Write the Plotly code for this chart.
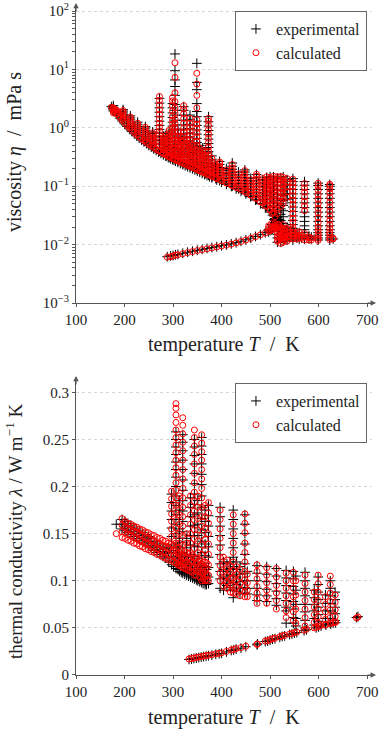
import plotly.graph_objects as go

# ---------------- viscosity (top panel) ----------------
# saturated liquid line
visc_liq_T = [173, 176, 180, 185, 190, 195, 200, 205, 210, 215,
              220, 225, 230, 235, 240, 245, 250, 255, 260, 265,
              270, 275, 280, 285, 290, 295, 300, 305, 310, 315,
              320, 325, 330, 335, 340, 345, 350, 355, 360, 365,
              370, 375, 380, 390, 400, 410, 420, 430, 440, 450,
              460, 470, 480, 490, 500, 505, 510]
visc_liq_exp = [2.30, 2.12, 1.89, 1.66, 1.47, 1.31, 1.17, 1.06, 0.96, 0.87,
                0.79, 0.73, 0.67, 0.62, 0.574, 0.535, 0.50, 0.466, 0.436, 0.41,
                0.386, 0.365, 0.345, 0.327, 0.31, 0.295, 0.281, 0.268, 0.256, 0.245,
                0.235, 0.225, 0.216, 0.207, 0.199, 0.19, 0.181, 0.174, 0.166, 0.159,
                0.152, 0.146, 0.14, 0.128, 0.118, 0.108, 0.099, 0.09, 0.082, 0.074,
                0.066, 0.058, 0.05, 0.043, 0.036, 0.032, 0.028]
visc_liq_calc = [2.25, 2.15, 1.95, 1.72, 1.52, 1.36, 1.22, 1.10, 1.0, 0.91,
                 0.83, 0.76, 0.70, 0.65, 0.60, 0.56, 0.52, 0.49, 0.46, 0.43,
                 0.405, 0.383, 0.362, 0.343, 0.326, 0.31, 0.295, 0.282, 0.27, 0.258,
                 0.247, 0.237, 0.227, 0.218, 0.209, 0.2, 0.191, 0.183, 0.175, 0.168,
                 0.16, 0.154, 0.147, 0.135, 0.124, 0.114, 0.104, 0.095, 0.087, 0.078,
                 0.07, 0.062, 0.054, 0.046, 0.039, 0.034, 0.03]

# saturated vapour line
visc_vap_T = [288, 295, 300, 305, 310, 320, 330, 340, 350, 360,
              370, 380, 390, 400, 410, 420, 430, 440, 450, 460,
              470, 480, 490, 500, 505, 510]
visc_vap_exp = [0.0062, 0.0064, 0.0065, 0.0067, 0.0068, 0.0071, 0.0074, 0.0077, 0.008, 0.0083,
                0.0086, 0.0089, 0.0092, 0.0096, 0.0099, 0.0103, 0.0108, 0.0114, 0.0121, 0.0129,
                0.0138, 0.0148, 0.016, 0.0175, 0.0185, 0.0205]
visc_vap_calc = [0.0061, 0.0062, 0.0064, 0.0066, 0.0067, 0.007, 0.0073, 0.0076, 0.0079, 0.0082,
                 0.0085, 0.0088, 0.0091, 0.0095, 0.0098, 0.0102, 0.0107, 0.0113, 0.012, 0.0128,
                 0.0137, 0.0147, 0.0158, 0.0172, 0.0182, 0.02]

# measured points near the critical point
visc_crit_T = [508, 510, 511, 512, 513, 514, 515, 516, 517, 512, 514, 510, 516]
visc_crit_exp = [0.027, 0.026, 0.028, 0.025, 0.027, 0.029, 0.026, 0.024, 0.027, 0.031, 0.023, 0.023, 0.03]

# isotherms
visc_iso_T = [177, 184, 197, 212, 227, 243, 258, 272, 280, 286,
              292, 299, 304, 310, 316, 322, 328, 335, 341, 349,
              355, 361, 367, 373, 380, 388, 396, 410, 422, 435,
              448, 460, 472, 485, 493, 500, 507, 515, 522, 527,
              535, 547, 560, 571, 585, 599, 623, 630, 497, 503,
              510, 518, 530, 540, 555, 565, 580]
visc_iso_exp = [
    [1.95, 2.1, 2.25, 2.4],
    [1.78, 1.9],
    [1.38, 1.47, 1.57, 1.68, 1.8, 1.93, 2.05],
    [1.02, 1.1, 1.18, 1.27, 1.37, 1.48, 1.6],
    [0.78, 0.84, 0.91, 0.98, 1.06, 1.15, 1.25],
    [0.6, 0.65, 0.71, 0.77, 0.84, 0.91, 0.99, 1.05],
    [0.48, 0.52, 0.57, 0.62, 0.67, 0.73, 0.8, 0.85],
    [0.4, 0.46, 0.53, 0.61, 0.7, 0.81, 0.94, 1.1, 1.3, 1.55, 1.85, 2.2, 2.65, 3.2],
    [0.36, 0.4, 0.45, 0.51, 0.57, 0.64, 0.72],
    [0.33, 0.37, 0.42, 0.48, 0.55, 0.62, 0.7, 0.8],
    [0.31, 0.35, 0.4, 0.45, 0.51, 0.58, 0.66, 0.75, 0.85],
    [0.29, 0.33, 0.38, 0.44, 0.51, 0.59, 0.68, 0.79, 0.92, 1.07, 1.25, 1.5, 1.8, 2.2, 2.6],
    [0.28, 0.32, 0.37, 0.43, 0.5, 0.58, 0.68, 0.8, 0.95, 1.12, 1.35, 1.65, 2.0, 2.5, 3.6, 5.1, 6.6, 9.5, 18.4],
    [0.27, 0.31, 0.35, 0.4, 0.46, 0.53, 0.61, 0.7, 0.8, 0.92],
    [0.255, 0.29, 0.33, 0.38, 0.44, 0.5, 0.57, 0.65, 0.75],
    [0.245, 0.28, 0.32, 0.37, 0.43, 0.5, 0.58, 0.68, 0.8, 0.95, 1.12, 1.35, 1.65, 2.0, 2.3],
    [0.235, 0.27, 0.31, 0.35, 0.4, 0.46, 0.53, 0.61, 0.7],
    [0.22, 0.25, 0.29, 0.33, 0.38, 0.44, 0.51, 0.6, 0.7, 0.82, 0.97, 1.15, 1.4, 1.65],
    [0.21, 0.24, 0.28, 0.32, 0.37, 0.42, 0.48, 0.55],
    [0.195, 0.225, 0.26, 0.3, 0.35, 0.41, 0.48, 0.56, 0.66, 0.78, 0.92, 1.1, 1.3, 1.55, 1.9, 2.6, 4.5, 6.0, 12.7],
    [0.185, 0.21, 0.24, 0.28, 0.32, 0.37, 0.43, 0.5],
    [0.175, 0.2, 0.23, 0.26, 0.3, 0.34, 0.39, 0.45],
    [0.165, 0.19, 0.22, 0.25, 0.28, 0.32, 0.37, 0.42],
    [0.155, 0.18, 0.21, 0.245, 0.285, 0.33, 0.39, 0.46, 0.54, 0.64, 0.76, 0.9, 1.07, 1.27, 1.55],
    [0.145, 0.165, 0.19, 0.22, 0.25, 0.29, 0.33],
    [0.135, 0.155, 0.175, 0.2, 0.23],
    [0.125, 0.14, 0.155, 0.17, 0.19, 0.21, 0.235, 0.265],
    [0.11, 0.122, 0.135, 0.15, 0.166, 0.185, 0.2],
    [0.1, 0.112, 0.125, 0.14, 0.156, 0.174, 0.195, 0.22, 0.25],
    [0.09, 0.1, 0.112, 0.125, 0.14, 0.156, 0.175],
    [0.08, 0.09, 0.1, 0.112, 0.125, 0.14, 0.157, 0.175, 0.19],
    [0.068, 0.077, 0.087, 0.098, 0.11, 0.123, 0.137],
    [0.06, 0.068, 0.077, 0.087, 0.098, 0.11, 0.124, 0.14, 0.158],
    [0.05, 0.058, 0.067, 0.077, 0.088, 0.1, 0.114, 0.13],
    [0.045, 0.052, 0.06, 0.07, 0.081, 0.094, 0.108, 0.124, 0.142],
    [0.038, 0.045, 0.053, 0.062, 0.073, 0.085, 0.099, 0.115, 0.133, 0.146],
    [0.034, 0.04, 0.047, 0.056, 0.066, 0.078, 0.092, 0.108, 0.126, 0.145],
    [0.011, 0.013, 0.015, 0.018, 0.021, 0.025, 0.03, 0.036, 0.043, 0.051, 0.061, 0.072, 0.085, 0.1, 0.118, 0.138],
    [0.011, 0.013, 0.015, 0.018, 0.021, 0.026, 0.033, 0.041, 0.05, 0.06, 0.072, 0.086, 0.102, 0.12, 0.14],
    [0.0115, 0.0135, 0.016, 0.019, 0.023, 0.03, 0.038, 0.047, 0.057, 0.069, 0.083, 0.1, 0.12, 0.145],
    [0.012, 0.014, 0.017, 0.02, 0.06, 0.075, 0.09, 0.108, 0.13],
    [0.012, 0.0135, 0.015, 0.017, 0.019, 0.022, 0.026, 0.031, 0.037, 0.044, 0.052, 0.062, 0.074, 0.088, 0.104, 0.12, 0.135],
    [0.0125, 0.014, 0.016],
    [0.0125, 0.014, 0.016, 0.018, 0.021, 0.025, 0.03, 0.036, 0.043, 0.052, 0.062, 0.074, 0.088, 0.104, 0.12],
    [0.0125, 0.0135],
    [0.012, 0.013, 0.0145, 0.016, 0.018, 0.021, 0.025, 0.03, 0.036, 0.043, 0.052, 0.062, 0.074, 0.088, 0.103, 0.113],
    [0.012, 0.013, 0.0145, 0.016, 0.018, 0.021, 0.025, 0.03, 0.036, 0.043, 0.052, 0.062, 0.074, 0.088, 0.1, 0.107],
    [0.0125],
    [0.0165, 0.018],
    [0.018, 0.02, 0.022],
    [0.02, 0.022, 0.024],
    [0.013, 0.015, 0.017, 0.019, 0.021],
    [0.0125, 0.014, 0.016, 0.018],
    [0.013, 0.015, 0.017],
    [0.013, 0.015],
    [0.013],
    [0.0125, 0.014],
]
visc_iso_calc = [
    [1.8, 1.9, 2.0, 2.1, 2.2],
    [1.75, 1.9, 2.0],
    [1.42, 1.52, 1.62, 1.74, 1.86, 1.98],
    [1.05, 1.14, 1.23, 1.32, 1.42, 1.53],
    [0.8, 0.87, 0.94, 1.02, 1.1, 1.2],
    [0.62, 0.68, 0.74, 0.8, 0.87, 0.95, 1.02],
    [0.5, 0.54, 0.59, 0.64, 0.7, 0.76, 0.82],
    [0.42, 0.49, 0.57, 0.66, 0.76, 0.88, 1.02, 1.2, 1.42, 1.7, 2.03, 2.45, 2.95, 3.45],
    [0.37, 0.42, 0.48, 0.54, 0.6, 0.68],
    [0.35, 0.39, 0.45, 0.51, 0.58, 0.66, 0.75],
    [0.32, 0.37, 0.42, 0.48, 0.54, 0.62, 0.7, 0.8, 0.9],
    [0.3, 0.35, 0.4, 0.46, 0.53, 0.62, 0.72, 0.84, 0.98, 1.15, 1.35, 1.6, 1.95, 2.4, 2.9, 3.3],
    [0.29, 0.34, 0.39, 0.45, 0.53, 0.62, 0.73, 0.86, 1.02, 1.2, 1.45, 1.8, 2.2, 2.8, 4.0, 7.3, 13.0],
    [0.28, 0.32, 0.37, 0.42, 0.48, 0.55, 0.63, 0.73, 0.85],
    [0.265, 0.3, 0.35, 0.4, 0.46, 0.52, 0.6, 0.7],
    [0.255, 0.29, 0.34, 0.39, 0.45, 0.52, 0.61, 0.72, 0.85, 1.0, 1.2, 1.45, 1.75, 2.1, 2.4],
    [0.245, 0.28, 0.32, 0.37, 0.42, 0.48, 0.55, 0.64],
    [0.23, 0.265, 0.3, 0.35, 0.4, 0.46, 0.54, 0.63, 0.74, 0.87, 1.02, 1.2, 1.45],
    [0.22, 0.25, 0.29, 0.33, 0.38, 0.44, 0.5],
    [0.205, 0.235, 0.27, 0.31, 0.36, 0.42, 0.5, 0.59, 0.7, 0.83, 0.98, 1.16, 1.38, 2.2, 3.6, 5.6, 8.6],
    [0.19, 0.22, 0.25, 0.29, 0.34, 0.39, 0.45],
    [0.18, 0.21, 0.24, 0.27, 0.31, 0.36, 0.41],
    [0.17, 0.195, 0.225, 0.26, 0.3, 0.34, 0.39],
    [0.16, 0.185, 0.215, 0.25, 0.29, 0.34, 0.4, 0.47, 0.56, 0.66, 0.78, 0.93, 1.1, 1.3, 1.45],
    [0.15, 0.17, 0.195, 0.225, 0.26, 0.3],
    [0.14, 0.16, 0.18, 0.205, 0.235],
    [0.13, 0.145, 0.16, 0.178, 0.198, 0.22, 0.245, 0.26],
    [0.114, 0.127, 0.141, 0.156, 0.173, 0.19],
    [0.104, 0.117, 0.131, 0.146, 0.163, 0.182, 0.205, 0.235],
    [0.094, 0.105, 0.117, 0.131, 0.146, 0.163],
    [0.083, 0.093, 0.104, 0.117, 0.131, 0.147, 0.165, 0.185],
    [0.071, 0.08, 0.09, 0.102, 0.115, 0.129],
    [0.062, 0.071, 0.08, 0.09, 0.102, 0.115, 0.13, 0.148, 0.16],
    [0.052, 0.06, 0.07, 0.08, 0.092, 0.105, 0.12, 0.135],
    [0.047, 0.055, 0.064, 0.074, 0.086, 0.099, 0.114, 0.13, 0.145],
    [0.04, 0.047, 0.056, 0.066, 0.077, 0.09, 0.105, 0.122, 0.14],
    [0.036, 0.042, 0.05, 0.059, 0.07, 0.083, 0.098, 0.115, 0.134, 0.148],
    [0.0115, 0.0135, 0.016, 0.019, 0.022, 0.034, 0.04, 0.048, 0.057, 0.067, 0.079, 0.093, 0.11, 0.128, 0.145],
    [0.0105, 0.0125, 0.0145, 0.017, 0.02, 0.045, 0.055, 0.066, 0.079, 0.094, 0.11, 0.128, 0.146],
    [0.011, 0.013, 0.0155, 0.0185, 0.022, 0.05, 0.061, 0.074, 0.089, 0.106, 0.125, 0.142],
    [0.0115, 0.0135, 0.016, 0.019, 0.065, 0.08, 0.097, 0.117, 0.135],
    [0.0125, 0.014, 0.016, 0.018, 0.02, 0.024, 0.028, 0.034, 0.041, 0.049, 0.058, 0.069, 0.082, 0.097, 0.114, 0.132],
    [0.013, 0.0145, 0.0165],
    [0.012, 0.0135, 0.0155, 0.038, 0.046, 0.055, 0.066, 0.079, 0.094, 0.111],
    [0.012, 0.013],
    [0.0118, 0.0128, 0.014, 0.0155, 0.0175, 0.02, 0.024, 0.029, 0.035, 0.042, 0.05, 0.06, 0.072, 0.085, 0.1, 0.112],
    [0.0122, 0.0132, 0.0148, 0.0165, 0.019, 0.022, 0.026, 0.031, 0.037, 0.044, 0.053, 0.064, 0.077, 0.09, 0.102, 0.108],
    [0.0125, 0.0128],
    [0.017, 0.019, 0.021],
    [0.018, 0.02, 0.023],
    [0.019, 0.021, 0.023],
    [0.012, 0.014, 0.016, 0.018, 0.02, 0.022],
    [0.012, 0.0135, 0.015, 0.017, 0.019],
    [0.0125, 0.014, 0.016, 0.018],
    [0.0125, 0.014, 0.016],
    [0.0128, 0.0145],
    [0.012, 0.0135],
]

# ---------------- thermal conductivity (bottom panel) ----------------
# saturated vapour line
tc_vap_T = [333, 338, 343, 348, 353, 358, 363, 368, 373, 380,
            388, 395, 400, 410, 420, 425, 430, 440, 450, 473,
            474, 490, 495, 500, 505, 510, 520, 525, 530, 540,
            545, 550, 555, 570, 575, 595, 600, 605, 615, 625,
            630, 635, 678, 681]
tc_vap_exp = [0.0165, 0.017, 0.0176, 0.018, 0.0185, 0.019, 0.0195, 0.02, 0.0205, 0.021,
              0.022, 0.0225, 0.023, 0.0245, 0.026, 0.0265, 0.0275, 0.0285, 0.03, 0.032,
              0.033, 0.0355, 0.036, 0.037, 0.038, 0.0385, 0.04, 0.041, 0.0415, 0.043,
              0.0435, 0.0445, 0.045, 0.047, 0.048, 0.05, 0.051, 0.052, 0.053, 0.054,
              0.055, 0.0555, 0.061, 0.062]
tc_vap_calc = [0.017, 0.0175, 0.018, 0.0185, 0.019, 0.0195, 0.02, 0.0205, 0.021, 0.0215,
               0.0225, 0.023, 0.0235, 0.025, 0.0265, 0.027, 0.028, 0.029, 0.0305, 0.0325,
               0.033, 0.036, 0.0365, 0.0375, 0.0385, 0.039, 0.0405, 0.0415, 0.042, 0.0435,
               0.044, 0.045, 0.0455, 0.0475, 0.0485, 0.0505, 0.0515, 0.0525, 0.0535, 0.0545,
               0.0555, 0.056, 0.0605, 0.0615]

# isotherms
tc_iso_T = [183, 195, 201, 207, 213, 219, 225, 231, 237, 243,
            249, 255, 261, 267, 273, 279, 285, 291, 297, 301,
            306, 310, 313, 317, 320, 324, 328, 332, 336, 340,
            344, 348, 351, 355, 359, 362, 366, 369, 373, 397,
            404, 411, 418, 424, 431, 438, 448, 453, 473, 493,
            513, 533, 548, 553, 572, 591, 599, 614, 624, 634]
tc_iso_exp = [
    [0.16],
    [0.155, 0.16, 0.165],
    [0.153, 0.158, 0.163],
    [0.151, 0.156, 0.161],
    [0.149, 0.154, 0.159],
    [0.147, 0.152, 0.157],
    [0.145, 0.15, 0.155],
    [0.143, 0.148, 0.153],
    [0.141, 0.146, 0.151],
    [0.139, 0.144, 0.149],
    [0.137, 0.142, 0.147],
    [0.135, 0.14, 0.145],
    [0.132, 0.137, 0.142],
    [0.13, 0.135, 0.14],
    [0.128, 0.133, 0.138],
    [0.126, 0.131, 0.136],
    [0.124, 0.129, 0.134],
    [0.12, 0.125, 0.13, 0.135],
    [0.117, 0.122, 0.13, 0.138, 0.147, 0.156, 0.165, 0.174, 0.183, 0.192],
    [0.115, 0.12, 0.126, 0.132],
    [0.113, 0.12, 0.13, 0.14, 0.15, 0.16, 0.17, 0.18, 0.19, 0.2, 0.21, 0.218, 0.226, 0.234, 0.242, 0.25, 0.258],
    [0.112, 0.118, 0.124, 0.13, 0.136],
    [0.11, 0.116, 0.125, 0.135, 0.145, 0.155, 0.165, 0.175, 0.185],
    [0.109, 0.115, 0.121, 0.128],
    [0.108, 0.112, 0.12, 0.13, 0.141, 0.152, 0.163, 0.174, 0.185, 0.196, 0.207, 0.218, 0.228, 0.238, 0.247, 0.255],
    [0.107, 0.113, 0.119, 0.126],
    [0.106, 0.111, 0.118, 0.125, 0.135, 0.145],
    [0.105, 0.11, 0.116, 0.122],
    [0.104, 0.109, 0.118, 0.128, 0.138, 0.148, 0.158, 0.168, 0.178, 0.188],
    [0.103, 0.108, 0.114, 0.12],
    [0.102, 0.105, 0.116, 0.126, 0.137, 0.148, 0.159, 0.17, 0.181, 0.192, 0.203, 0.214, 0.224, 0.233, 0.242, 0.25],
    [0.101, 0.106, 0.112, 0.118],
    [0.1, 0.103, 0.112, 0.124, 0.136, 0.148, 0.16, 0.172, 0.185],
    [0.099, 0.104, 0.11, 0.116],
    [0.098, 0.1, 0.106, 0.118, 0.13, 0.142, 0.154, 0.166, 0.178, 0.19, 0.202, 0.213, 0.224, 0.234, 0.243, 0.252],
    [0.097, 0.102, 0.108, 0.114],
    [0.096, 0.098, 0.105, 0.115, 0.127, 0.139, 0.151, 0.163, 0.175],
    [0.096, 0.1, 0.106, 0.112],
    [0.097, 0.104, 0.114, 0.125, 0.136, 0.147, 0.158, 0.169, 0.18],
    [0.092, 0.102, 0.11, 0.118, 0.128, 0.138, 0.148, 0.158, 0.168, 0.178],
    [0.09, 0.097, 0.104, 0.112, 0.12],
    [0.095, 0.102, 0.11, 0.118],
    [0.093, 0.1, 0.106, 0.113, 0.12],
    [0.082, 0.09, 0.098, 0.106, 0.115, 0.125, 0.135, 0.145, 0.155, 0.165, 0.175],
    [0.089, 0.096, 0.104, 0.112, 0.12],
    [0.086, 0.092, 0.099, 0.107, 0.115],
    [0.087, 0.093, 0.1, 0.108, 0.118, 0.128, 0.139, 0.15, 0.16, 0.17],
    [0.086, 0.092, 0.1, 0.11],
    [0.079, 0.085, 0.092, 0.1, 0.108, 0.116],
    [0.078, 0.084, 0.091, 0.099, 0.107, 0.115],
    [0.074, 0.081, 0.089, 0.097, 0.105, 0.113],
    [0.055, 0.068, 0.072, 0.079, 0.087, 0.095, 0.103, 0.111],
    [0.055, 0.061, 0.07, 0.078, 0.086, 0.094, 0.102, 0.11],
    [0.052, 0.06, 0.075, 0.09, 0.105],
    [0.05, 0.058, 0.067, 0.075, 0.084, 0.092, 0.1, 0.109],
    [0.053, 0.06, 0.068, 0.075, 0.082, 0.09],
    [0.057, 0.064, 0.072, 0.08, 0.088, 0.096, 0.104],
    [0.054, 0.06, 0.068, 0.076, 0.085],
    [0.055, 0.06, 0.068, 0.076, 0.084, 0.092, 0.1],
    [0.058, 0.065, 0.072, 0.08, 0.088],
]
tc_iso_calc = [
    [0.15],
    [0.146, 0.152, 0.159, 0.166],
    [0.145, 0.151, 0.157, 0.163],
    [0.143, 0.149, 0.155, 0.161],
    [0.142, 0.148, 0.154, 0.16],
    [0.14, 0.146, 0.152, 0.158],
    [0.139, 0.145, 0.151, 0.157],
    [0.137, 0.143, 0.149, 0.155],
    [0.136, 0.142, 0.148, 0.154],
    [0.134, 0.14, 0.146, 0.152],
    [0.133, 0.139, 0.145, 0.151],
    [0.131, 0.137, 0.143, 0.149],
    [0.13, 0.136, 0.142, 0.148],
    [0.128, 0.134, 0.14, 0.146],
    [0.127, 0.133, 0.139, 0.145],
    [0.125, 0.131, 0.137, 0.143],
    [0.124, 0.13, 0.136, 0.142],
    [0.122, 0.128, 0.134, 0.14],
    [0.122, 0.131, 0.139, 0.147, 0.155, 0.163, 0.171, 0.179, 0.187, 0.195],
    [0.12, 0.126, 0.132, 0.138],
    [0.119, 0.124, 0.132, 0.14, 0.148, 0.156, 0.164, 0.172, 0.18, 0.188, 0.196, 0.204, 0.212, 0.22,
     0.228, 0.236, 0.244, 0.252, 0.26, 0.268, 0.276, 0.283, 0.288],
    [0.117, 0.123, 0.129, 0.135],
    [0.116, 0.12, 0.13, 0.14, 0.15, 0.16, 0.17, 0.18, 0.19],
    [0.115, 0.121, 0.127, 0.133],
    [0.114, 0.118, 0.128, 0.138, 0.148, 0.158, 0.168, 0.178, 0.188, 0.198, 0.208, 0.218, 0.228, 0.238,
     0.247, 0.256, 0.265, 0.273],
    [0.113, 0.119, 0.125, 0.131],
    [0.112, 0.12, 0.13, 0.14, 0.15],
    [0.111, 0.117, 0.123, 0.129],
    [0.11, 0.12, 0.13, 0.14, 0.15, 0.16, 0.17, 0.18, 0.19],
    [0.109, 0.115, 0.121, 0.127],
    [0.106, 0.114, 0.124, 0.134, 0.144, 0.154, 0.164, 0.174, 0.184, 0.194, 0.204, 0.214, 0.224, 0.234,
     0.243, 0.252, 0.26],
    [0.106, 0.112, 0.118, 0.124],
    [0.11, 0.12, 0.13, 0.142, 0.154, 0.166, 0.178, 0.19],
    [0.104, 0.11, 0.116, 0.122],
    [0.1, 0.108, 0.118, 0.128, 0.138, 0.148, 0.158, 0.168, 0.178, 0.188, 0.198, 0.208, 0.218, 0.228,
     0.237, 0.246, 0.255],
    [0.102, 0.108, 0.114, 0.12],
    [0.1, 0.11, 0.12, 0.132, 0.144, 0.156, 0.168, 0.18],
    [0.101, 0.107, 0.113, 0.119],
    [0.1, 0.106, 0.117, 0.128, 0.139, 0.15, 0.161, 0.172, 0.183],
    [0.1, 0.108, 0.116, 0.125, 0.135, 0.145, 0.155, 0.165, 0.175],
    [0.094, 0.101, 0.109, 0.117, 0.125],
    [0.092, 0.099, 0.106, 0.114, 0.122],
    [0.088, 0.095, 0.102, 0.109, 0.116],
    [0.087, 0.095, 0.103, 0.111, 0.12, 0.13, 0.14, 0.15, 0.16, 0.17],
    [0.086, 0.093, 0.1, 0.107, 0.115],
    [0.084, 0.09, 0.097, 0.104, 0.112],
    [0.083, 0.088, 0.094, 0.101, 0.11, 0.12, 0.13, 0.14, 0.151, 0.161, 0.171],
    [0.083, 0.09, 0.098, 0.107],
    [0.076, 0.081, 0.087, 0.094, 0.102, 0.11, 0.117],
    [0.076, 0.083, 0.09, 0.098, 0.106, 0.114],
    [0.07, 0.079, 0.087, 0.095, 0.104, 0.113],
    [0.061, 0.068, 0.076, 0.084, 0.092, 0.1, 0.108],
    [0.058, 0.067, 0.075, 0.083, 0.092, 0.1, 0.109],
    [0.055, 0.07, 0.085, 0.1],
    [0.052, 0.061, 0.07, 0.079, 0.088, 0.097, 0.106],
    [0.05, 0.056, 0.064, 0.072, 0.08, 0.088],
    [0.055, 0.062, 0.07, 0.079, 0.088, 0.097, 0.106],
    [0.053, 0.059, 0.067, 0.075, 0.083],
    [0.055, 0.061, 0.069, 0.078, 0.087, 0.096, 0.105],
    [0.056, 0.062, 0.069, 0.077, 0.085],
]

# axis ticks
x_ticks = [100, 200, 300, 400, 500, 600, 700]
visc_ticks = [1e-3, 1e-2, 1e-1, 1e0, 1e1, 1e2]
visc_ticklabels = ["10<sup>−3</sup>", "10<sup>−2</sup>", "10<sup>−1</sup>",
                   "10<sup>0</sup>", "10<sup>1</sup>", "10<sup>2</sup>"]
visc_minor = [k * d for d in visc_ticks[:-1] for k in range(2, 10)]
tc_ticks = [0, 0.05, 0.1, 0.15, 0.2, 0.25, 0.3]
tc_ticklabels = ["0", "0.05", "0.1", "0.15", "0.2", "0.25", "0.3"]


def collect(groups):
    xs, ys = [], []
    for line_T, line_vals in groups:
        xs += list(line_T)
        ys += list(line_vals)
    return xs, ys


def iso_groups(iso_T, iso_vals):
    return [([t] * len(v), v) for t, v in zip(iso_T, iso_vals)]


FONT = "Liberation Serif, Times New Roman, serif"
AX = "#555555"
plus = dict(symbol="cross-thin-open", size=7, color="black", line=dict(width=1, color="black"))
ring = dict(symbol="circle-open", size=6, color="red", line=dict(width=1, color="red"))

vx_exp, vy_exp = collect([(visc_liq_T, visc_liq_exp), (visc_vap_T, visc_vap_exp),
                          (visc_crit_T, visc_crit_exp)] + iso_groups(visc_iso_T, visc_iso_exp))
vx_calc, vy_calc = collect([(visc_liq_T, visc_liq_calc), (visc_vap_T, visc_vap_calc)]
                           + iso_groups(visc_iso_T, visc_iso_calc))
tx_exp, ty_exp = collect([(tc_vap_T, tc_vap_exp)] + iso_groups(tc_iso_T, tc_iso_exp))
tx_calc, ty_calc = collect([(tc_vap_T, tc_vap_calc)] + iso_groups(tc_iso_T, tc_iso_calc))

fig = go.Figure()
fig.add_trace(go.Scatter(x=vx_exp, y=vy_exp, mode="markers", marker=plus, name="experimental",
                         xaxis="x", yaxis="y", legend="legend"))
fig.add_trace(go.Scatter(x=vx_calc, y=vy_calc, mode="markers", marker=ring, name="calculated",
                         xaxis="x", yaxis="y", legend="legend"))
fig.add_trace(go.Scatter(x=tx_exp, y=ty_exp, mode="markers", marker=plus, name="experimental",
                         xaxis="x2", yaxis="y2", legend="legend2"))
fig.add_trace(go.Scatter(x=tx_calc, y=ty_calc, mode="markers", marker=ring, name="calculated",
                         xaxis="x2", yaxis="y2", legend="legend2"))

XR = [100, 710]
TOP = [0.5552, 1.0]
BOT = [0.0, 0.4433]
tickfont = dict(family=FONT, size=15, color="#222")
base = dict(showline=True, linecolor=AX, linewidth=1.2, ticks="outside", ticklen=3,
            tickcolor=AX, tickwidth=1, zeroline=False, tickfont=tickfont)
inner = dict(showline=False, ticks="inside", ticklen=3, tickcolor=AX, tickwidth=1,
             zeroline=False, showgrid=False, showticklabels=False)
grid = dict(showgrid=True, gridcolor="#d6d6d6", griddash="dot", gridwidth=1)
legend_style = dict(xanchor="right", yanchor="top", bgcolor="white", bordercolor="#666",
                    borderwidth=1, font=dict(family=FONT, size=16, color="#222"),
                    itemwidth=30, tracegroupgap=0)

fig.update_layout(
    width=380, height=729,
    margin=dict(l=76, r=8, t=5, b=54),
    template="none",
    paper_bgcolor="white", plot_bgcolor="white",
    font=dict(family=FONT, size=15, color="#222"),
    xaxis=dict(domain=[0, 1], anchor="y", range=XR, tickmode="array", tickvals=x_ticks,
               showgrid=False, **base),
    yaxis=dict(domain=TOP, anchor="x", type="log", range=[-3, 2.103], tickmode="array",
               tickvals=visc_ticks, ticktext=visc_ticklabels,
               minor=dict(tickmode="array", tickvals=visc_minor, ticks="outside", ticklen=3,
                          tickcolor=AX, showgrid=False),
               **grid, **base),
    xaxis2=dict(domain=[0, 1], anchor="y2", range=XR, tickmode="array", tickvals=x_ticks,
                showgrid=False, **base),
    yaxis2=dict(domain=BOT, anchor="x2", range=[0, 0.3152], tickmode="array",
                tickvals=tc_ticks, ticktext=tc_ticklabels, **grid, **base),
    xaxis3=dict(domain=[0, 1], anchor="y", overlaying="x", range=XR, tickmode="array",
                tickvals=x_ticks, **inner),
    yaxis3=dict(domain=TOP, anchor="x", overlaying="y", type="log", range=[-3, 2.103],
                tickmode="array", tickvals=visc_ticks,
                minor=dict(tickmode="array", tickvals=visc_minor, ticks="inside", ticklen=3,
                           tickcolor=AX, showgrid=False),
                **inner),
    xaxis4=dict(domain=[0, 1], anchor="y2", overlaying="x2", range=XR, tickmode="array",
                tickvals=x_ticks, **inner),
    yaxis4=dict(domain=BOT, anchor="x2", overlaying="y2", range=[0, 0.3152], tickmode="array",
                tickvals=tc_ticks, **inner),
    legend=dict(x=0.983, y=0.991, **legend_style),
    legend2=dict(x=0.983, y=0.4358, **legend_style),
)

# axis titles
titles = [
    dict(x=0.5, y=(675 - 344) / 670, size=20, text="temperature <i>T</i>  /  K", textangle=0),
    dict(x=0.5, y=(675 - 717) / 670, size=20, text="temperature <i>T</i>  /  K", textangle=0),
    dict(x=(14 - 76) / 296, y=(675 - 152) / 670, size=20,
         text="viscosity <i>η</i>  /  mPa s", textangle=-90),
    dict(x=(14 - 76) / 296, y=(675 - 531) / 670, size=19,
         text="thermal conductivity <i>λ</i> / W m<sup>−1</sup> K", textangle=-90),
]
for t in titles:
    size = t.pop("size")
    fig.add_annotation(xref="paper", yref="paper", showarrow=False, xanchor="center",
                       yanchor="middle", font=dict(family=FONT, size=size, color="#222"), **t)

# arrow heads at the axis ends
for xa, ya in [("x", "y"), ("x2", "y2")]:
    fig.add_annotation(xref=xa + " domain", yref=ya + " domain", x=1.0135, y=0, ax=-10, ay=0,
                       text="", showarrow=True, arrowhead=2, arrowsize=0.9, arrowwidth=1.2,
                       arrowcolor=AX, standoff=0)
    fig.add_annotation(xref=xa + " domain", yref=ya + " domain", x=0, y=1.007, ax=0, ay=10,
                       text="", showarrow=True, arrowhead=2, arrowsize=0.9, arrowwidth=1.2,
                       arrowcolor=AX, standoff=0)

# the page's default body margin would shift the figure; remove it
fig.write_html("out.html", config={"displayModeBar": False},
               post_script="document.body.style.margin='0';")
